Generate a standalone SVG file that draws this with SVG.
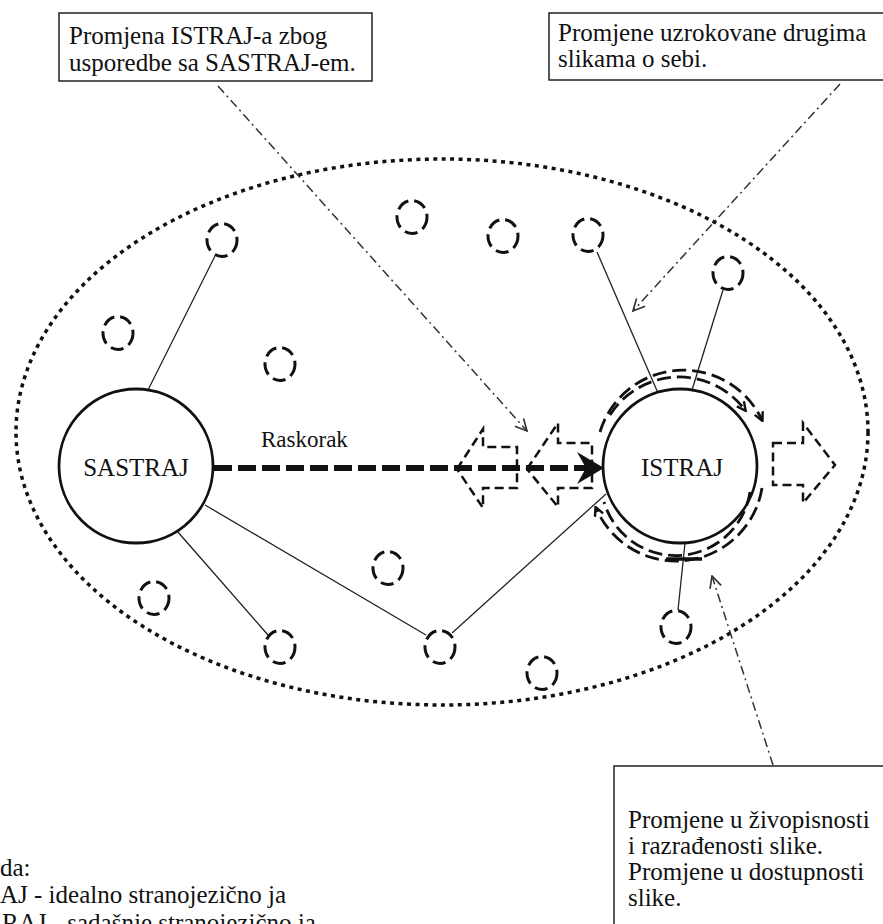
<svg xmlns="http://www.w3.org/2000/svg" width="883" height="924" viewBox="0 0 883 924">
<style>
.t{font-family:"Liberation Serif","Times New Roman",serif;font-size:25px;fill:#111}
.box{fill:#fff;stroke:#222;stroke-width:1.5}
.big{fill:#fff;stroke:#111;stroke-width:2.8}
.small{fill:none;stroke:#111;stroke-width:3;stroke-dasharray:13 6}
.conn{fill:none;stroke:#222;stroke-width:1.3}
.dd{fill:none;stroke:#333;stroke-width:1.5;stroke-dasharray:9 4 2 4}
.blk{fill:none;stroke:#111;stroke-width:2.5;stroke-dasharray:9 5}
.ring{fill:none;stroke:#111;stroke-width:2.8;stroke-dasharray:14 6}
.gap{fill:none;stroke:#111;stroke-width:6;stroke-dasharray:18 6}
</style>
<defs>
<marker id="open" viewBox="0 0 12 12" refX="11" refY="6" markerWidth="14" markerHeight="14" markerUnits="userSpaceOnUse" orient="auto">
<path d="M1,1 L11,6 L1,11" fill="none" stroke="#333" stroke-width="1.4"/>
</marker>
<marker id="hook" viewBox="0 0 10 10" refX="8" refY="5" markerWidth="11" markerHeight="11" markerUnits="userSpaceOnUse" orient="auto">
<path d="M1,1 L9,5 L1,9" fill="none" stroke="#111" stroke-width="2.2"/>
</marker>
</defs>
<rect width="883" height="924" fill="#fff"/>

<ellipse id="field" cx="442" cy="432" rx="426" ry="273" fill="none" stroke="#111" stroke-width="3.5" stroke-dasharray="4 4.5"/>

<g id="connectors">
<line class="conn" x1="148" y1="390" x2="215" y2="256"/>
<line class="conn" x1="177" y1="531" x2="268" y2="635"/>
<line class="conn" x1="205" y1="505" x2="426" y2="635"/>
<line class="conn" x1="452" y1="633" x2="606" y2="494"/>
<line class="conn" x1="597" y1="252" x2="658" y2="393"/>
<line class="conn" x1="723" y1="290" x2="692" y2="390"/>
<line class="conn" x1="685" y1="543" x2="678" y2="610"/>
<line class="dd" x1="218" y1="86" x2="527" y2="431" marker-end="url(#open)"/>
<line class="dd" x1="840" y1="84" x2="633" y2="311" marker-end="url(#open)"/>
<line class="dd" x1="773" y1="765" x2="712" y2="576" marker-end="url(#open)"/>
</g>

<g id="sastraj">
<circle class="big" cx="136" cy="466" r="77"/>
<text class="t" x="136" y="476" text-anchor="middle">SASTRAJ</text>
</g>

<g id="istraj">
<circle class="big" cx="680" cy="466" r="77"/>
<text class="t" x="682" y="476" text-anchor="middle">ISTRAJ</text>
<path class="ring" d="M600,432 A87,87 0 0 1 762,420" marker-end="url(#hook)"/>
<path class="ring" d="M610,415 A82,82 0 0 1 745,410" marker-end="url(#hook)"/>
<path class="ring" d="M762,488 A87,87 0 0 1 596,508" marker-end="url(#hook)"/>
<path class="ring" d="M750,492 A75,75 0 0 1 604,502"/>
<line x1="666" y1="559" x2="702" y2="559" stroke="#111" stroke-width="3.4"/>
</g>

<g id="gap-arrows">
<polygon class="blk" points="457,469 483,429 483,447 517,447 517,488 483,488 483,508"/>
<polygon class="blk" points="527,469 558,423 558,443 592,443 592,488 558,488 558,507"/>
<polygon class="blk" points="773,443 803,443 803,423 835,465 803,503 803,485 773,485"/>
<line class="gap" x1="214" y1="468" x2="588" y2="468"/>
<polygon points="604,468 577,452 586,468 577,484" fill="#111"/>
<text class="t" x="261" y="447" style="font-size:23px">Raskorak</text>
</g>

<g id="c1"><ellipse class="small" cx="222" cy="240" rx="15" ry="16.5"/></g>
<g id="c2"><ellipse class="small" cx="118" cy="333" rx="15" ry="16.5"/></g>
<g id="c3"><ellipse class="small" cx="280" cy="364" rx="15" ry="16.5"/></g>
<g id="c4"><ellipse class="small" cx="412" cy="217" rx="15" ry="16.5"/></g>
<g id="c5"><ellipse class="small" cx="503" cy="236" rx="15" ry="16.5"/></g>
<g id="c6"><ellipse class="small" cx="588" cy="235" rx="15" ry="16.5"/></g>
<g id="c7"><ellipse class="small" cx="728" cy="273" rx="15" ry="16.5"/></g>
<g id="c8"><ellipse class="small" cx="154" cy="598" rx="15" ry="16.5"/></g>
<g id="c9"><ellipse class="small" cx="280" cy="647" rx="15" ry="16.5"/></g>
<g id="c10"><ellipse class="small" cx="388" cy="568" rx="15" ry="16.5"/></g>
<g id="c11"><ellipse class="small" cx="440" cy="647" rx="15" ry="16.5"/></g>
<g id="c12"><ellipse class="small" cx="542" cy="673" rx="15" ry="16.5"/></g>
<g id="c13"><ellipse class="small" cx="676" cy="627" rx="15" ry="16.5"/></g>

<g id="box-top-left">
<rect class="box" x="59" y="13" width="313" height="68"/>
<text class="t" x="69" y="44">Promjena ISTRAJ-a zbog</text>
<text class="t" x="69" y="71">usporedbe sa SASTRAJ-em.</text>
</g>

<g id="box-top-right">
<rect class="box" x="549" y="13" width="345" height="67"/>
<text class="t" x="558" y="41">Promjene uzrokovane drugima</text>
<text class="t" x="558" y="67">slikama o sebi.</text>
</g>

<g id="box-bottom-right">
<rect class="box" x="614" y="766" width="280" height="170"/>
<text class="t" x="628" y="828">Promjene u živopisnosti</text>
<text class="t" x="628" y="854">i razrađenosti slike.</text>
<text class="t" x="628" y="880">Promjene u dostupnosti</text>
<text class="t" x="628" y="906">slike.</text>
</g>

<g id="legend">
<text class="t" x="0" y="876">da:</text>
<text class="t" x="0" y="903">AJ - idealno stranojezično ja</text>
<text class="t" x="2" y="931">RAJ - sadašnje stranojezično ja</text>
</g>
</svg>
